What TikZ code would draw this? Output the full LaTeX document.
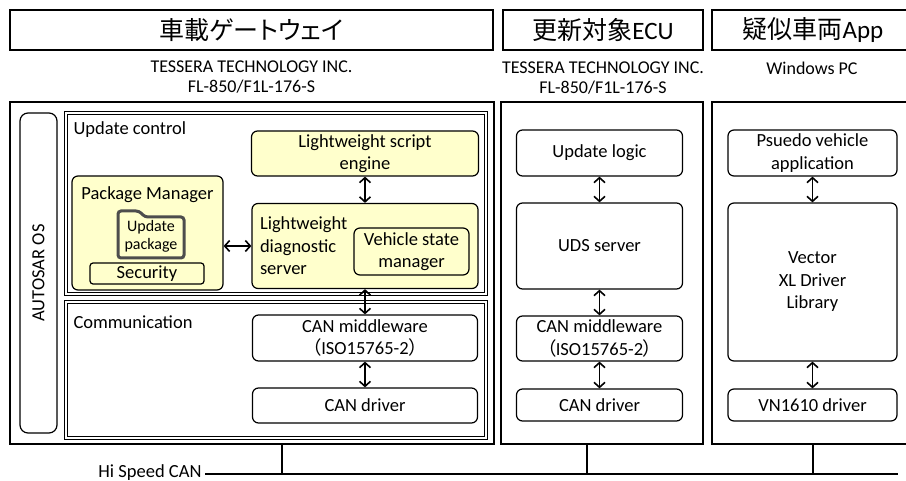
\documentclass[tikz,border=0pt]{standalone}
\usepackage{fontspec}
\setmainfont{Carlito}
\newfontfamily\cjk[RawFeature=+palt]{Noto Sans CJK JP}
\usetikzlibrary{arrows.meta}
\definecolor{liteyellow}{RGB}{255,255,204}
\definecolor{foldergray}{RGB}{77,77,77}
\tikzset{
  every node/.style={font=\fontsize{18.5}{22.5}\selectfont},
  titlebox/.style={draw, line width=2.2pt, font=\fontsize{25}{28}\selectfont},
  boardtext/.style={align=center, font=\fontsize{18}{20}\selectfont},
  hostbox/.style={draw, line width=1.8pt, minimum height=342pt},
  layerbox/.style={draw=black, line width=0.8pt, double=white, double distance=1.5pt, minimum width=420pt},
  swbox/.style={draw, rounded corners=6pt, line width=1.2pt, align=center, inner sep=1pt},
  litebox/.style={swbox, fill=liteyellow},
  link/.style={{Straight Barb[length=5pt,width=11pt]}-{Straight Barb[length=5pt,width=11pt]}, line width=1.6pt},
}

\begin{document}
\begin{tikzpicture}[x=1pt, y=-1pt]
  \useasboundingbox (0,0) rectangle (906,481);

  % titles
  \node[titlebox, minimum width=483pt, minimum height=40pt] (gwtitle) at (251.5,30) {\cjk 車載ゲートウェイ};
  \node[titlebox, minimum width=200pt, minimum height=40pt] (ecutitle) at (603,30) {{\cjk 更新対象}ECU};
  \node[titlebox, minimum width=202pt, minimum height=40pt] (apptitle) at (813,30) {{\cjk 疑似車両}App};
  \node[boardtext] (gwboard) at (251.5,77.5) {TESSERA TECHNOLOGY INC.\\FL-850/F1L-176-S};
  \node[boardtext] (ecuboard) at (603,78) {TESSERA TECHNOLOGY INC.\\FL-850/F1L-176-S};
  \node[boardtext] (appboard) at (812,68) {Windows PC};

  % hosts
  \node[hostbox, minimum width=484pt] (gw) at (252,273) {};
  \node[hostbox, minimum width=202pt] (ecu) at (602,273) {};
  \node[hostbox, minimum width=202pt] (app) at (813,273) {};

  % gateway
  \node[swbox, rotate=90, rounded corners=8pt, minimum width=320pt, minimum height=37pt] (os) at (38.5,273) {AUTOSAR OS};
  \node[layerbox, minimum height=181pt] (ctrl) at (276,203.5) {};
  \node[anchor=west] (ctrllabel) at (70,130) {Update control};
  \node[layerbox, minimum height=136pt] (comm) at (276,370) {};
  \node[anchor=west] (commlabel) at (70,322) {Communication};

  \node[litebox, minimum width=151pt, minimum height=114pt] (pkg) at (147.5,233) {};
  \node (pkglabel) at (147.5,195) {Package Manager};
  \draw[foldergray, line width=3pt, rounded corners=3pt, fill=liteyellow]
    (118,258) -- (118,211) -- (139,211) -- (145,217) -- (184,217) -- (184,258) -- cycle;
  \node[align=center, inner sep=0pt, font=\fontsize{16}{18}\selectfont] (upkg) at (151,236) {Update\\package};
  \node[litebox, rounded corners=3pt, minimum width=114pt, minimum height=21pt] (sec) at (147,273.5) {Security};

  \node[litebox, minimum width=227pt, minimum height=45pt] (script) at (365,153.5) {Lightweight script\\engine};
  \node[litebox, minimum width=226pt, minimum height=85pt, text width=210pt, align=left] (diag) at (365,246) {Lightweight\\diagnostic\\server};
  \node[litebox, minimum width=115pt, minimum height=47pt] (vsm) at (411.5,251.5) {Vehicle state\\manager};

  \node[swbox, minimum width=225pt, minimum height=46pt] (gwmid) at (365,338) {CAN middleware\\{\cjk （}ISO15765-2{\cjk ）}};
  \node[swbox, minimum width=225pt, minimum height=35pt] (gwdrv) at (365,405.5) {CAN driver};

  % ECU
  \node[swbox, minimum width=166pt, minimum height=46pt] (logic) at (599.5,153) {Update logic};
  \node[swbox, minimum width=166pt, minimum height=86pt] (uds) at (599.5,246) {UDS server};
  \node[swbox, minimum width=166pt, minimum height=45pt] (ecumid) at (599.5,338.5) {CAN middleware\\{\cjk （}ISO15765-2{\cjk ）}};
  \node[swbox, minimum width=166pt, minimum height=32pt] (ecudrv) at (599.5,405) {CAN driver};

  % pseudo vehicle
  \node[swbox, minimum width=169pt, minimum height=46pt] (pseudo) at (812.5,153) {Psuedo vehicle\\application};
  \node[swbox, minimum width=169pt, minimum height=158pt] (xl) at (812.5,282) {Vector\\XL Driver\\Library};
  \node[swbox, minimum width=169pt, minimum height=32pt] (vn) at (812.5,405) {VN1610 driver};

  % links
  \draw[link] (pkg.east |- diag.west) -- (diag.west);
  \draw[link] (script) -- (diag);
  \draw[link] (diag) -- (gwmid);
  \draw[link] (gwmid) -- (gwdrv);
  \draw[link] (logic) -- (uds);
  \draw[link] (uds) -- (ecumid);
  \draw[link] (ecumid) -- (ecudrv);
  \draw[link] (pseudo) -- (xl);
  \draw[link] (xl) -- (vn);

  % bus
  \coordinate (busL) at (205,474);
  \coordinate (busR) at (898,474);
  \coordinate (gwtap) at (282,474);
  \coordinate (ecutap) at (587,474);
  \coordinate (apptap) at (813,474);
  \node[anchor=east, yshift=1.5pt, inner ysep=1pt] (can) at (busL) {Hi Speed CAN};
  \draw[line width=1.2pt] (busL) -- (busR);
  \draw[line width=1.2pt] (gwtap) -- (gwtap |- gw.south);
  \draw[line width=1.2pt] (ecutap) -- (ecutap |- ecu.south);
  \draw[line width=1.2pt] (apptap) -- (apptap |- app.south);
\end{tikzpicture}
\end{document}
